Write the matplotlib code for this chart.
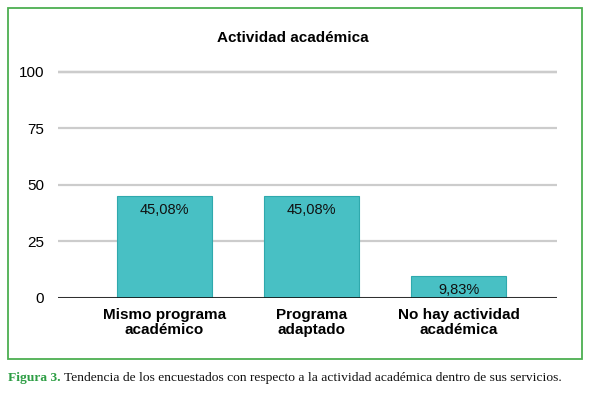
import matplotlib.pyplot as plt
from matplotlib.patches import Rectangle

plt.rcParams["font.family"] = ["Liberation Sans", "DejaVu Sans"]

categories = ["Mismo programa\nacadémico", "Programa\nadaptado", "No hay actividad\nacadémica"]
values = [45.08, 45.08, 9.83]
value_labels = ["45,08%", "45,08%", "9,83%"]
yticks = [0, 25, 50, 75, 100]

fig = plt.figure(figsize=(5.92, 3.95), dpi=100)
ax = fig.add_axes([0.098, 0.2456, 0.843, 0.578])

x = range(len(categories))
ax.bar(x, values, width=0.645, color="#48c0c4", edgecolor="#2fa9ad", linewidth=0.8, zorder=3)
for i, (v, lab) in enumerate(zip(values, value_labels)):
    ax.text(i, v - 3.2, lab, ha="center", va="top", fontsize=10.5, color="#111111", zorder=4)

ax.set_xlim(-0.725, 2.67)
ax.set_ylim(0, 101)
ax.set_yticks(yticks)
ax.set_yticklabels([str(t) for t in yticks], fontsize=11)
ax.yaxis.grid(True, color="#cccccc", linewidth=1.6, zorder=0)
ax.axhline(100, color="#a8a8a8", linewidth=1.6, zorder=1)
ax.axhline(0, color="#111111", linewidth=1.2, zorder=4)
ax.tick_params(axis="y", length=0, pad=10)
ax.set_xticks(list(x))
ax.set_xticklabels(categories, fontsize=11, fontweight="bold", linespacing=1.15)
ax.tick_params(axis="x", length=0, pad=7)
for s in ax.spines.values():
    s.set_visible(False)

fig.text(0.495, 0.904, "Actividad académica", ha="center", va="center", fontsize=11, fontweight="bold")

fig.patches.append(Rectangle((8 / 592, 1 - 359 / 395), 574 / 592, 351 / 395, transform=fig.transFigure,
                             fill=False, edgecolor="#4caf50", linewidth=1.3))

fig_lab = fig.text(8 / 592, 1 - 378 / 395, "Figura 3. ", ha="left", va="center", fontsize=9.7,
                   fontweight="bold", color="#2e9e45", family="Liberation Serif")
fig.canvas.draw()
bb = fig_lab.get_window_extent()
fig.text(bb.x1 / fig.bbox.width, 1 - 378 / 395,
         "Tendencia de los encuestados con respecto a la actividad académica dentro de sus servicios.",
         ha="left", va="center", fontsize=9.7, color="#111111", family="Liberation Serif")

fig.savefig("out.png", dpi=100)
